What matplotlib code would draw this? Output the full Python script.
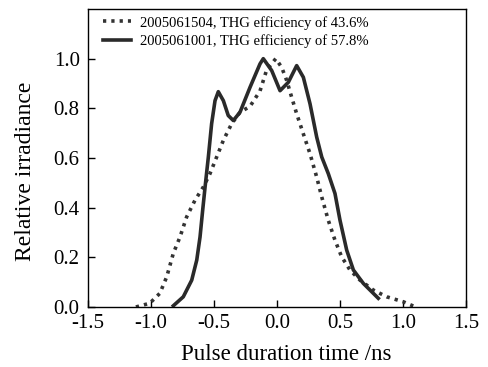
import matplotlib
matplotlib.use("Agg")
import matplotlib.pyplot as plt
from matplotlib.ticker import FormatStrFormatter

# Pulse shapes (time in ns, normalised irradiance)
t_1504 = [-1.12, -1.01, -0.93, -0.875, -0.823, -0.77, -0.717, -0.651, -0.585,
          -0.532, -0.479, -0.426, -0.36, -0.294, -0.214, -0.135, -0.082, -0.01,
          0.037, 0.077, 0.116, 0.156, 0.209, 0.262, 0.315, 0.355, 0.407, 0.46,
          0.513, 0.579, 0.659, 0.765, 0.871, 1.002, 1.095]
i_1504 = [0.0, 0.015, 0.055, 0.122, 0.216, 0.282, 0.363, 0.430, 0.483,
          0.537, 0.604, 0.671, 0.738, 0.784, 0.808, 0.870, 0.955, 1.0,
          0.965, 0.912, 0.845, 0.778, 0.697, 0.617, 0.523, 0.443, 0.349, 0.269,
          0.202, 0.149, 0.108, 0.068, 0.041, 0.021, 0.001]

t_1001 = [-0.823, -0.744, -0.677, -0.637, -0.611, -0.590, -0.571, -0.545, -0.519,
          -0.492, -0.466, -0.426, -0.387, -0.347, -0.294, -0.214, -0.135, -0.109,
          -0.042, 0.024, 0.090, 0.156, 0.209, 0.262, 0.315, 0.355, 0.407, 0.460,
          0.500, 0.553, 0.606, 0.685, 0.804]
i_1001 = [0.005, 0.041, 0.108, 0.189, 0.282, 0.390, 0.483, 0.604, 0.738,
          0.831, 0.867, 0.831, 0.771, 0.751, 0.784, 0.885, 0.979, 1.0,
          0.952, 0.871, 0.905, 0.972, 0.925, 0.818, 0.684, 0.604, 0.537, 0.457,
          0.349, 0.229, 0.149, 0.095, 0.035]

labels = ["2005061504, THG efficiency of 43.6%",
          "2005061001, THG efficiency of 57.8%"]

plt.rcParams["font.family"] = ["Liberation Serif", "DejaVu Serif"]

fig = plt.figure(figsize=(4.89, 3.67), dpi=100)
ax = fig.add_axes([0.18, 0.1635, 0.773, 0.812])

ax.plot(t_1504, i_1504, color="#333333", linestyle=(0, (0.9, 1.4)), linewidth=2.6,
        dash_capstyle="butt", label=labels[0])
ax.plot(t_1001, i_1001, color="#2a2a2a", linestyle="-", linewidth=2.6,
        solid_joinstyle="round", label=labels[1])

ax.set_xlim(-1.5, 1.5)
ax.set_ylim(0, 1.2)
ax.set_xticks([-1.5, -1.0, -0.5, 0.0, 0.5, 1.0, 1.5])
ax.set_yticks([0.0, 0.2, 0.4, 0.6, 0.8, 1.0])
ax.xaxis.set_major_formatter(FormatStrFormatter("%.1f"))
ax.yaxis.set_major_formatter(FormatStrFormatter("%.1f"))
ax.tick_params(direction="in", length=5, width=1, labelsize=15)
ax.tick_params(axis="x", pad=5)
ax.tick_params(axis="y", pad=6)
for sp in ax.spines.values():
    sp.set_linewidth(1.0)

ax.set_xlabel("Pulse duration time /ns", fontsize=16.5)
ax.set_ylabel("Relative irradiance", fontsize=17)
ax.xaxis.set_label_coords(0.524, -0.123)
ax.yaxis.set_label_coords(-0.138, 0.456)

ax.legend(loc="upper left", frameon=False, fontsize=10.5, handlelength=1.9,
          handletextpad=0.6, labelspacing=0.3, borderaxespad=0.0,
          bbox_to_anchor=(0.025, 0.997))

fig.savefig("out.png", dpi=100)
